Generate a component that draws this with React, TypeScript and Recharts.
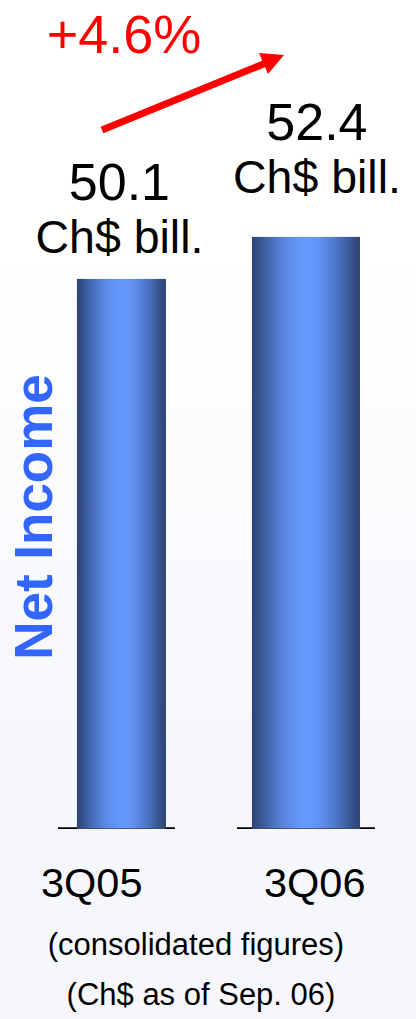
import React from 'react';
import { BarChart, Bar, XAxis, YAxis, LabelList, Customized } from 'recharts';

const categories = ['3Q05', '3Q06'];
const netIncome = [50.1, 52.4];
const unitLabel = 'Ch$ bill.';
const growthLabel = '+4.6%';
const axisTitle = 'Net Income';
const footnotes = ['(consolidated figures)', '(Ch$ as of Sep. 06)'];

const data = categories.map((c, i) => ({ period: c, value: netIncome[i] }));

const FONT = '"Liberation Sans", Arial, Helvetica, sans-serif';
const W = 416;
const H = 1019;

// styling per bar (pixel widths, baseline extensions, label offsets)
const BAR_WIDTHS = [89, 108];
const BASE_EXT = [
  [19, 9],
  [15, 15],
];
const LABEL_DX = [-2, 11];
const LABEL_GAP = [26, 44];
const TICK_DX = [-29.5, 9];

const idxOfValue = (v: any) => {
  const i = netIncome.indexOf(Number(v));
  return i < 0 ? 0 : i;
};

const BarShape = (props: any) => {
  const { x, y, width, height, payload } = props;
  const i = Math.max(0, categories.indexOf(payload?.period));
  const cx = x + width / 2;
  const w = BAR_WIDTHS[i];
  const left = cx - w / 2;
  const bottom = y + height;
  const [el, er] = BASE_EXT[i];
  return (
    <g>
      <line x1={left - el} x2={left + w + er} y1={bottom - 0.5} y2={bottom - 0.5} stroke="#000" strokeWidth={2.5} />
      <line x1={left - el} x2={left + w + er} y1={bottom + 1.5} y2={bottom + 1.5} stroke="#a0a0a0" strokeWidth={1} />
      <rect x={left} y={y} width={w} height={height} fill="url(#barGrad)" />
      <line x1={left} x2={left + w} y1={bottom} y2={bottom} stroke="#404550" strokeWidth={1.5} />
    </g>
  );
};

const ValueLabel = (props: any) => {
  const { x, y, width, value } = props;
  const i = idxOfValue(value);
  const cx = x + width / 2 + LABEL_DX[i];
  const unitBase = y - LABEL_GAP[i];
  return (
    <g fontFamily={FONT} fill="#000">
      <text x={cx} y={unitBase - 53} textAnchor="middle" fontSize={52}>
        {Number(value).toFixed(1)}
      </text>
      <text x={cx} y={unitBase} textAnchor="middle" fontSize={46.5}>
        {unitLabel}
      </text>
    </g>
  );
};

const Tick = (props: any) => {
  const { x, payload } = props;
  const i = Math.max(0, categories.indexOf(payload?.value));
  return (
    <text x={x + TICK_DX[i]} y={897} textAnchor="middle" fontSize={41.5} fontFamily={FONT} fill="#000">
      {payload.value}
    </text>
  );
};

const Decorations = () => (
  <g fontFamily={FONT}>
    <text x={124} y={53} textAnchor="middle" fontSize={54} fill="#FF0000">
      {growthLabel}
    </text>
    <line x1={102} y1={130} x2={266} y2={63} stroke="#FF0000" strokeWidth={7} />
    <polygon points="284,55 259,53 268,74" fill="#FF0000" />
    <text
      transform="translate(52,517) rotate(-90)"
      x={0}
      y={0}
      textAnchor="middle"
      fontSize={53}
      fontWeight="bold"
      fill="#3366FF"
    >
      {axisTitle}
    </text>
    <text x={196} y={955} textAnchor="middle" fontSize={31} fill="#000">
      {footnotes[0]}
    </text>
    <text x={201} y={1005} textAnchor="middle" fontSize={31} fill="#000">
      {footnotes[1]}
    </text>
  </g>
);

export default function App() {
  return (
    <div
      style={{
        position: 'absolute',
        left: 0,
        top: 0,
        width: W,
        height: H,
        background: 'linear-gradient(to bottom, #ffffff 0%, #ffffff 25%, #f9fafd 55%, #f5f7fc 75%, #f5f7fc 100%)',
      }}
    >
      <BarChart width={W} height={H} data={data} margin={{ top: 98, right: 18, left: 29, bottom: 130 }}>
        <defs>
          <linearGradient id="barGrad" x1="0" y1="0" x2="1" y2="0">
            <stop offset="0%" stopColor="#2C4372" />
            <stop offset="12%" stopColor="#3E5FA3" />
            <stop offset="30%" stopColor="#5A87E4" />
            <stop offset="48%" stopColor="#6699FF" />
            <stop offset="60%" stopColor="#6496F8" />
            <stop offset="80%" stopColor="#4B72C2" />
            <stop offset="100%" stopColor="#2C4270" />
          </linearGradient>
        </defs>
        <XAxis dataKey="period" axisLine={false} tickLine={false} height={60} tick={<Tick />} interval={0} />
        <YAxis hide domain={[20, 60]} allowDataOverflow width={0} />
        <Bar dataKey="value" shape={<BarShape />} isAnimationActive={false}>
          <LabelList dataKey="value" content={<ValueLabel />} />
        </Bar>
        <Customized component={<Decorations />} />
      </BarChart>
    </div>
  );
}
